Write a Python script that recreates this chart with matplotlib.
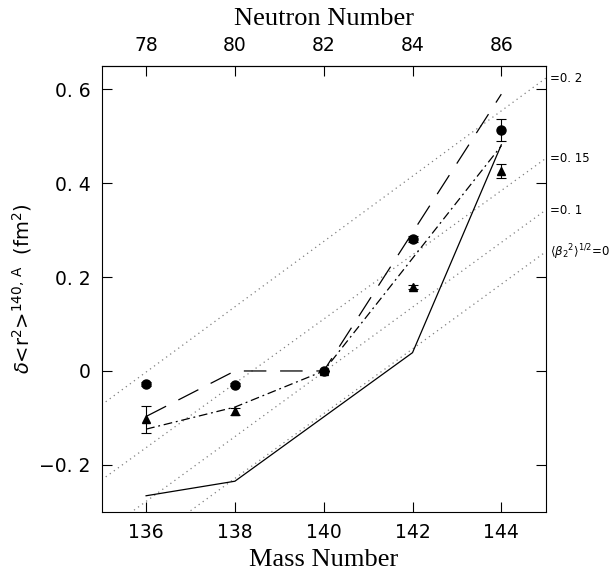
import matplotlib.pyplot as plt

# mass numbers and data
mass = [136, 138, 140, 142, 144]
circ = [-0.027, -0.029, 0.0, 0.281, 0.514]
circ_err = [0.004, 0.004, 0.0, 0.006, 0.023]
tri = [-0.103, -0.086, 0.0, 0.179, 0.427]
tri_err = [0.029, 0.008, 0.0, 0.005, 0.015]

solid = [-0.266, -0.235, -0.098, 0.039, 0.482]
dashed = [-0.097, 0.0, 0.0, 0.295, 0.59]
dashdot = [-0.124, -0.077, 0.0, 0.24, 0.48]

# droplet-model reference lines: value at A=135 and A=145
ref_x = [135, 145]
ref_lines = {
    "=0. 2": [-0.072, 0.624],
    "=0. 15": [-0.232, 0.453],
    "=0. 1": [-0.347, 0.343],
    r"$\langle\beta_2{}^2\rangle^{1/2}$=0": [-0.436, 0.254],
}

neutron_ticks = [78, 80, 82, 84, 86]
y_ticks = [-0.2, 0, 0.2, 0.4, 0.6]
y_ticklabels = ["\u22120. 2", "0", "0. 2", "0. 4", "0. 6"]

fig = plt.figure(figsize=(6.14, 5.76), dpi=100)
ax = fig.add_axes([0.1656, 0.1116, 0.7232, 0.7738])

for lab, vals in ref_lines.items():
    ax.annotate(lab, xy=(145, vals[1]), xytext=(3, 0), textcoords="offset points",
                va="center", ha="left", fontsize=8.5, annotation_clip=False)
    ax.plot(ref_x, vals, color="gray", lw=0.9, linestyle=(0, (1, 3)))

ax.plot(mass, solid, color="black", lw=0.9)
ax.plot(mass, dashed, color="black", lw=0.9, linestyle=(0, (18, 11)))
ax.plot(mass, dashdot, color="black", lw=0.9, linestyle=(0, (7, 3, 1.5, 3)))

ax.errorbar(mass, circ, yerr=circ_err, fmt="o", color="black", ms=6.5,
            elinewidth=0.8, capsize=3.5, capthick=0.8)
ax.errorbar(mass, tri, yerr=tri_err, fmt="^", color="black", ms=6,
            elinewidth=0.8, capsize=3.5, capthick=0.8)

ax.set_xlim(135, 145)
ax.set_ylim(-0.3, 0.65)
ax.set_xticks(mass)
ax.set_xticklabels([str(m) for m in mass], fontsize=13.5)
ax.set_yticks(y_ticks)
ax.set_yticklabels(y_ticklabels, fontsize=13.5)
ax.tick_params(axis="x", direction="in", length=7, pad=8, top=False)
ax.tick_params(axis="y", direction="in", length=7, pad=8, right=True)

top = ax.secondary_xaxis("top", functions=(lambda a: a - 58, lambda n: n + 58))
top.set_xticks(neutron_ticks)
top.set_xticklabels([str(n) for n in neutron_ticks], fontsize=13.5)
top.tick_params(direction="in", length=7, pad=8)
top.set_xlabel("Neutron Number", family="Liberation Serif", fontsize=19, labelpad=8)

ax.set_xlabel("Mass Number", family="Liberation Serif", fontsize=19, labelpad=5)
ax.set_ylabel(r"$\delta$<r$^2$>$^{\mathrm{140,\,A}}$  (fm$^2$)", fontsize=14, labelpad=4)

plt.savefig("out.png", dpi=100)
